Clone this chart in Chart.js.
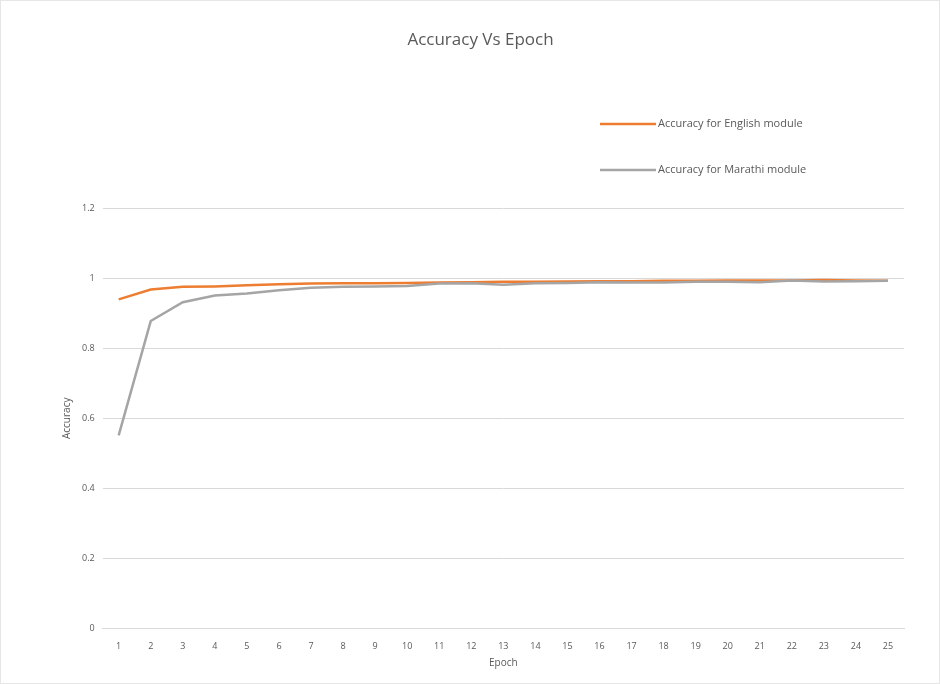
<!DOCTYPE html>
<html>
<head>
<meta charset="utf-8">
<script src="https://cdn.jsdelivr.net/npm/chart.js@4"></script>
<style>
  html, body { margin: 0; padding: 0; background: #ffffff; }
  #wrap { width: 940px; height: 684px; position: relative; box-sizing: border-box; border: 1px solid #e6e6e6; }
  canvas { display: block; }
</style>
</head>
<body>
<div id="wrap"><canvas id="c" width="938" height="682"></canvas></div>
<script>
// Epochs on the x axis
const epochs = ['1','2','3','4','5','6','7','8','9','10','11','12','13','14','15','16','17','18','19','20','21','22','23','24','25'];

// Accuracy per epoch for each language module
const englishAccuracy = [0.940, 0.968, 0.976, 0.977, 0.980, 0.983, 0.985, 0.986, 0.986, 0.987, 0.988, 0.989, 0.990, 0.990, 0.991, 0.992, 0.992, 0.993, 0.993, 0.994, 0.994, 0.994, 0.995, 0.994, 0.993];
const marathiAccuracy = [0.551, 0.878, 0.932, 0.951, 0.957, 0.966, 0.973, 0.976, 0.977, 0.978, 0.985, 0.986, 0.982, 0.986, 0.987, 0.989, 0.988, 0.988, 0.990, 0.990, 0.989, 0.994, 0.991, 0.992, 0.993];

// Y axis tick values
const yTicks = [0, 0.2, 0.4, 0.6, 0.8, 1, 1.2];

const seriesNames = ['Accuracy for English module', 'Accuracy for Marathi module'];

const textGrey = '#595959';
const font = "'Open Sans', 'Liberation Sans', sans-serif";

// Vertical legend placed inside the upper right area
const sideLegend = {
  id: 'sideLegend',
  afterDraw(chart) {
    const ctx = chart.ctx;
    const x0 = 599, x1 = 655, rows = [123, 169];
    ctx.save();
    chart.data.datasets.forEach((ds, i) => {
      const y = rows[i];
      ctx.strokeStyle = ds.borderColor;
      ctx.lineWidth = ds.borderWidth;
      ctx.beginPath();
      ctx.moveTo(x0, y);
      ctx.lineTo(x1, y);
      ctx.stroke();
      ctx.fillStyle = textGrey;
      ctx.font = '11px ' + font;
      ctx.textBaseline = 'middle';
      ctx.textAlign = 'left';
      ctx.fillText(ds.label, x1 + 2, y);
    });
    ctx.restore();
  }
};

new Chart(document.getElementById('c'), {
  type: 'line',
  data: {
    labels: epochs,
    datasets: [
      {
        label: seriesNames[0],
        data: englishAccuracy,
        borderColor: '#ED7D31',
        backgroundColor: '#ED7D31',
        borderWidth: 2.5,
        pointRadius: 0,
        tension: 0,
        order: 2
      },
      {
        label: seriesNames[1],
        data: marathiAccuracy,
        borderColor: '#A5A5A5',
        backgroundColor: '#A5A5A5',
        borderWidth: 2.5,
        pointRadius: 0,
        tension: 0,
        order: 1
      }
    ]
  },
  options: {
    responsive: false,
    animation: false,
    layout: { padding: { top: 12, left: 56, right: 35, bottom: 14 } },
    plugins: {
      legend: { display: false },
      tooltip: { enabled: false },
      title: {
        display: true,
        text: 'Accuracy Vs Epoch',
        color: textGrey,
        font: { family: font, size: 17, weight: 'normal' },
        padding: { top: 17, bottom: 158 }
      }
    },
    scales: {
      x: {
        offset: true,
        grid: { display: false, drawTicks: false },
        border: { display: true, color: '#d9d9d9', width: 1 },
        ticks: { color: textGrey, font: { family: font, size: 9 }, padding: 13, maxRotation: 0, autoSkip: false },
        title: { display: true, text: 'Epoch', color: textGrey, font: { family: font, size: 10 }, padding: { top: -8, bottom: 0 } }
      },
      y: {
        min: 0,
        max: 1.2,
        afterBuildTicks(axis) { axis.ticks = yTicks.map(v => ({ value: v })); },
        grid: { color: '#d9d9d9', lineWidth: 1, drawTicks: false },
        border: { display: false },
        ticks: { color: textGrey, font: { family: font, size: 9 }, padding: 8, callback: v => String(v) },
        title: { display: true, text: 'Accuracy', color: textGrey, font: { family: font, size: 10 }, padding: { top: 4, bottom: 1 } }
      }
    }
  },
  plugins: [sideLegend]
});
</script>
</body>
</html>
